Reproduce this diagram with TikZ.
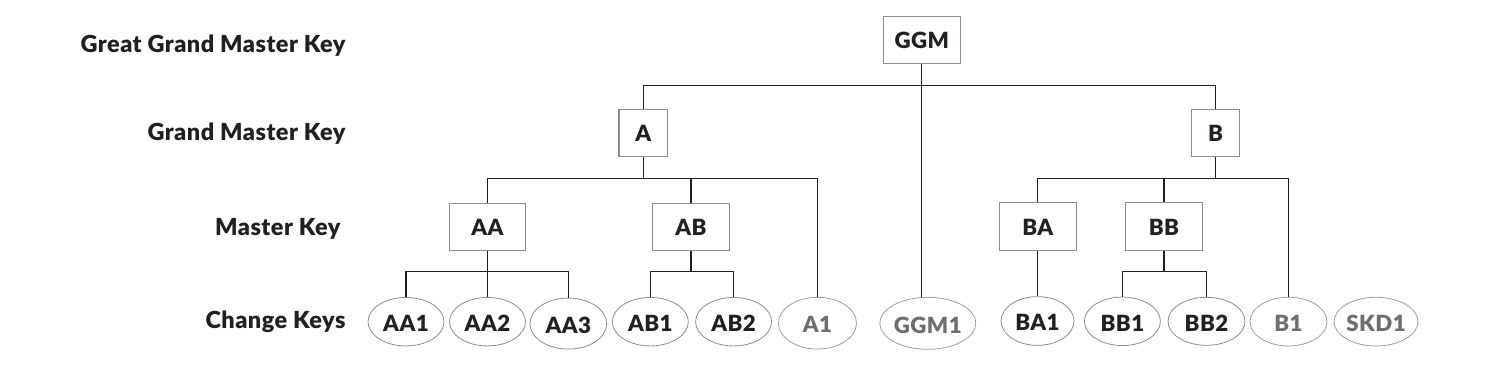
\documentclass[tikz,border=0pt]{standalone}
\usepackage{fontspec}
\setmainfont{Lato}[BoldFont={Lato Black}, BoldFeatures={LetterSpace=2}]
\usepackage{xcolor}
\usetikzlibrary{shapes.geometric}
\definecolor{keyink}{HTML}{231F20}
\definecolor{spareink}{HTML}{6D6E71}
\definecolor{edgegrey}{HTML}{8C8C8C}
\tikzset{
        key_font/.style={font=\fontsize{22.3}{26}\selectfont\bfseries},
        key_box/.style={rectangle, draw=edgegrey, line width=1.1pt, inner sep=0pt,
                        minimum height=47.5pt, text height=17pt, text depth=0pt,
                        key_font, text=keyink},
        key_oval/.style={ellipse, draw=edgegrey, line width=0.8pt, inner sep=0pt,
                         minimum width=76pt, minimum height=48.5pt,
                         text height=19.5pt, text depth=0pt, key_font, text=keyink},
        spare_oval/.style={key_oval, draw=edgegrey!85, text=spareink},
        lvl_text/.style={anchor=base east, font=\fontsize{23.5}{28}\selectfont\bfseries, text=keyink},
        link/.style={draw=keyink, line width=1.3pt}
    }

\begin{document}
\begin{tikzpicture}[x=1pt, y=-1pt]
    \useasboundingbox (0,0) rectangle (1486,370);
    % level names
    \node[lvl_text] (lvl_ggm) at (349,52.3) {Great Grand Master Key};
    \node[lvl_text] (lvl_gm) at (349,140.5) {Grand Master Key};
    \node[lvl_text] (lvl_m) at (344,235) {Master Key};
    \node[lvl_text] (lvl_c) at (349,328) {Change Keys};
    % master keys
    \node[key_box, minimum width=77pt] (GGM) at (921.8,39.9) {GGM};
    \node[key_box, minimum width=48.4pt] (A) at (643.2,133) {A};
    \node[key_box, minimum width=48.4pt] (B) at (1215.6,133) {B};
    \node[key_box, minimum width=76.5pt] (AA) at (487.5,227.1) {AA};
    \node[key_box, minimum width=76.5pt] (AB) at (691,226.9) {AB};
    \node[key_box, minimum width=76.5pt] (BA) at (1037.8,226.5) {BA};
    \node[key_box, minimum width=76.5pt] (BB) at (1164,226.5) {BB};
    % change keys
    \node[key_oval] (AA1) at (406,321.7) {AA1};
    \node[key_oval] (AA2) at (487.5,321.7) {AA2};
    \node[key_oval, minimum width=76.7pt, minimum height=51pt] (AA3) at (568.3,323.6) {AA3};
    \node[key_oval] (AB1) at (650.3,321.7) {AB1};
    \node[key_oval] (AB2) at (733.6,321.7) {AB2};
    \node[spare_oval, minimum width=78pt, minimum height=51.7pt] (A1) at (817.5,323.2) {A1};
    \node[spare_oval, minimum width=84pt, minimum height=52pt] (GGM1) at (927.8,323.3) {GGM1};
    \node[key_oval, minimum width=73pt, minimum height=48.7pt] (BA1) at (1037.5,321) {BA1};
    \node[key_oval] (BB1) at (1122.4,321.3) {BB1};
    \node[key_oval, minimum width=77pt, minimum height=48pt] (BB2) at (1206.5,321.3) {BB2};
    \node[spare_oval, minimum width=77pt, minimum height=48.7pt] (B1) at (1288.5,321.6) {B1};
    \node[spare_oval, minimum width=76.6pt, minimum height=48.7pt] (SKD1) at (1376,321.6) {SKD1};
    % bar heights
    \coordinate (bar_top) at (0,85.3);
    \coordinate (bar_gm) at (0,178.3);
    \coordinate (bar_m) at (0,271.3);
    % tree
    \draw[link] (A.north) -- (A.north |- bar_top) -| (B.north);
    \draw[link] (GGM.south) -- (GGM.south |- GGM1.north);
    \draw[link] (A.south) -- (A.south |- bar_gm);
    \draw[link] (AA.north) -- (AA.north |- bar_gm) -| (A1.north);
    \draw[link] (AB.north) -- (AB.north |- bar_gm);
    \draw[link] (B.south) -- (B.south |- bar_gm);
    \draw[link] (BA.north) -- (BA.north |- bar_gm) -| (B1.north);
    \draw[link] (BB.north) -- (BB.north |- bar_gm);
    \draw[link] (AA.south) -- (AA2.north);
    \draw[link] (AA1.north) -- (AA1.north |- bar_m) -| (AA3.north);
    \draw[link] (AB.south) -- (AB.south |- bar_m);
    \draw[link] (AB1.north) -- (AB1.north |- bar_m) -| (AB2.north);
    \draw[link] (BA.south) -- (BA.south |- BA1.north);
    \draw[link] (BB.south) -- (BB.south |- bar_m);
    \draw[link] (BB1.north) -- (BB1.north |- bar_m) -| (BB2.north);
\end{tikzpicture}
\end{document}
